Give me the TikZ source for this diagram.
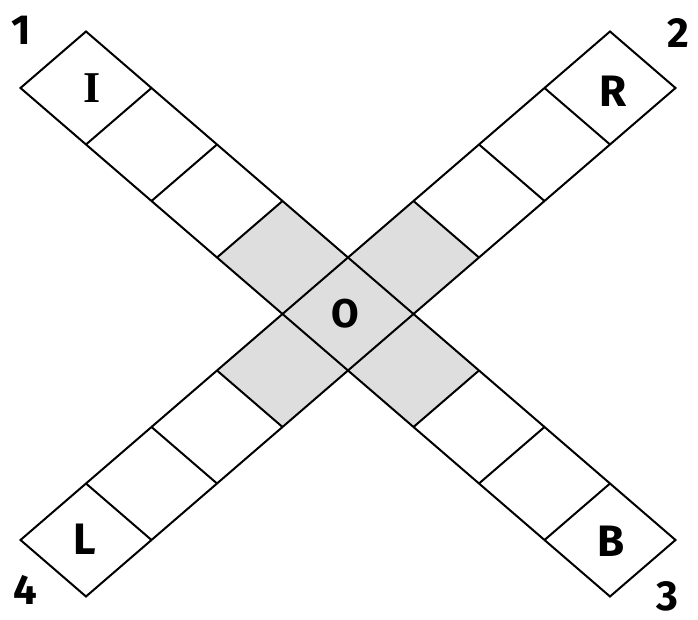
\documentclass[tikz,border=0pt]{standalone}
\usepackage{fontspec}
\setmainfont{Fira Sans}
\newfontfamily\serifI{Liberation Serif}
\begin{document}
\begin{tikzpicture}[x=1pt,y=1pt,
  edge/.style={line width=2pt,line join=miter},
  cellfill/.style={fill=black!13},
  letter/.style={font=\fontsize{44}{44}\selectfont\bfseries,inner sep=0pt},
  numlabel/.style={font=\fontsize{42}{42}\selectfont\bfseries,inner sep=0pt}]
\useasboundingbox[fill=white] (0,0) rectangle (698,620);
\begin{scope}[shift={(348,306)},x={(65.5pt,-56.5pt)},y={(65.5pt,56.5pt)}]
  % shaded cells
  \foreach \i in {-1,0,1}{
    \fill[cellfill] (\i-0.5,-0.5) -- (\i+0.5,-0.5) -- (\i+0.5,0.5) -- (\i-0.5,0.5) -- cycle;
    \fill[cellfill] (-0.5,\i-0.5) -- (0.5,\i-0.5) -- (0.5,\i+0.5) -- (-0.5,\i+0.5) -- cycle;
  }
  % strip outlines
  \draw[edge] (-4.5,-0.5) -- (4.5,-0.5) -- (4.5,0.5) -- (-4.5,0.5) -- cycle;
  \draw[edge] (-0.5,-4.5) -- (0.5,-4.5) -- (0.5,4.5) -- (-0.5,4.5) -- cycle;
  % cell dividers
  \foreach \k in {-3.5,-2.5,-1.5,1.5,2.5,3.5}{
    \draw[edge] (\k,-0.5) -- (\k,0.5);
    \draw[edge] (-0.5,\k) -- (0.5,\k);
  }
  % letters
  \node[letter] (I) at (-3.95,0.05) {\serifI\bfseries I};
  \node[letter] (R) at (0.05,4) {R};
  \node[letter] (B) at (4.02,0) {B};
  \node[letter] (L) at (-0.02,-4) {L};
  \node[letter,font=\fontsize{40}{40}\selectfont\bfseries] (O) at (-0.02,-0.02) {O};
\end{scope}
\node[numlabel] (n1) at (21,590) {1};
\node[numlabel] (n2) at (678,587) {2};
\node[numlabel] (n3) at (667,24) {3};
\node[numlabel] (n4) at (25,30) {4};
\end{tikzpicture}
\end{document}
